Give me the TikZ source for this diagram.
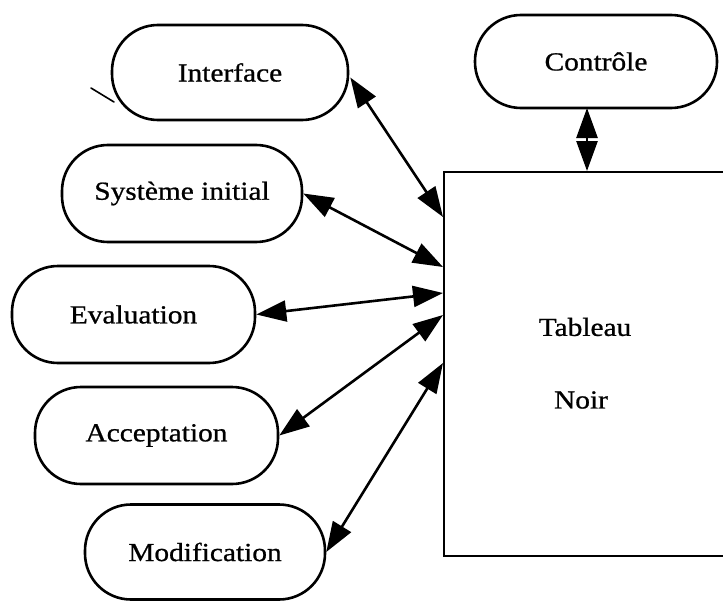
\documentclass[tikz,border=0pt]{standalone}
\usepackage{fontspec}
\setmainfont[FakeStretch=1.13,FakeBold=0.8]{Liberation Serif}
\usetikzlibrary{arrows.meta}
\begin{document}
\begin{tikzpicture}[x=1pt,y=-1pt,
  stadium/.style={draw,line width=2.6pt,rounded corners=46pt,minimum width=#1,minimum height=95pt,inner sep=0pt,font=\fontsize{26}{30}\selectfont},
  stadium/.default=240pt,
  link/.style={line width=2.6pt,{Triangle[length=30pt,width=21pt]}-{Triangle[length=30pt,width=21pt]}},
  board/.style={draw,line width=2.4pt,minimum width=300pt,minimum height=384pt,anchor=north west,inner sep=0pt}]
\useasboundingbox (0,0) rectangle (723,602);
\clip (0,0) rectangle (723,602);
\fill[white] (0,0) rectangle (723,602);
% blackboard
\node[board] (tb) at (443,171) {};
\node[font=\fontsize{26}{30}\selectfont] (t1) at (585,327) {Tableau};
\node[font=\fontsize{26}{30}\selectfont] (t2) at (581,400) {Noir};
% modules
\node[stadium=236pt] (iface) at (230,72.5) {Interface};
\node[stadium=240pt,minimum height=97pt] (sys) at (182,193.5) {Système initial};
\node[stadium=243pt,minimum height=97pt] (eval) at (133.5,314.5) {Evaluation};
\node[stadium=243pt,minimum height=97pt] (acc) at (156.5,435.5) {Acceptation};
\node[stadium=240pt] (mod) at (205,552) {Modification};
\node[stadium=242pt,minimum height=93pt] (ctrl) at (596,61.5) {Contrôle};
% anchor points on the board
\coordinate (c0) at (587,108);
\coordinate (b0) at (587,171);
\coordinate (b1) at (443,217);
\coordinate (b2) at (443,267);
\coordinate (b3) at (443,293);
\coordinate (b4) at (443,315);
\coordinate (b5) at (443,363);
% connectors
\draw[link] (c0) -- (b0);
\draw[link] (iface.east) ++(1,5) -- (b1);
\draw[link] (sys.east) -- (b2);
\draw[link] (eval.east) -- (b3);
\draw[link] (acc.east) -- (b4);
\draw[link] (mod.east) -- (b5);
% stray mark
\coordinate (s1) at (91,88);
\coordinate (s2) at (114,102);
\draw[line width=1.6pt,line cap=round] (s1) -- (s2);
\end{tikzpicture}
\end{document}
